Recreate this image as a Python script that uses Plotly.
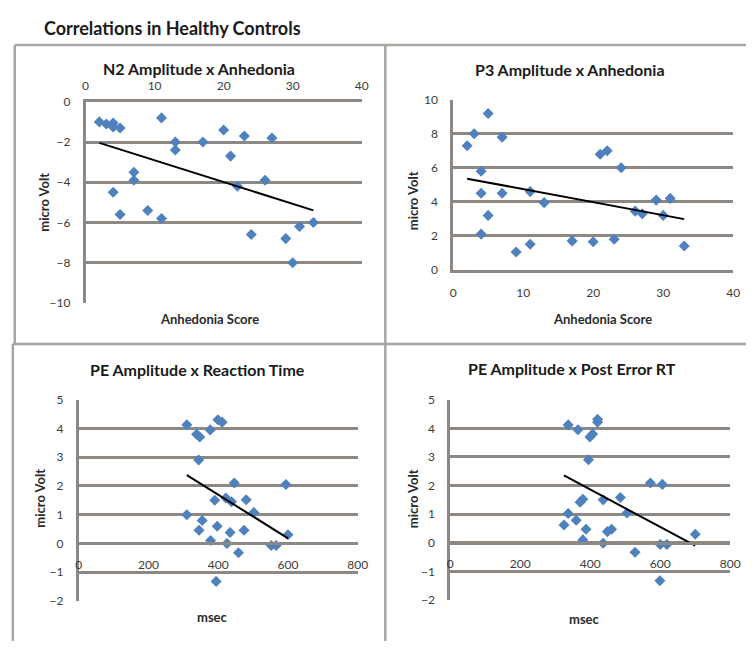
import numpy as np
import plotly.graph_objects as go

W, H = 756, 648

# ---------------- data ----------------
n2_x = [2, 3, 4, 4, 5, 11, 13, 13, 17, 20, 21, 23, 27, 7, 7, 4, 5, 9, 11, 22, 26, 24, 29, 31, 33, 30]
n2_y = [-1.0, -1.1, -1.05, -1.25, -1.3, -0.8, -2.0, -2.4, -2.0, -1.4, -2.7, -1.7, -1.8,
        -3.5, -3.9, -4.5, -5.6, -5.4, -5.8, -4.2, -3.9, -6.6, -6.8, -6.2, -6.0, -8.0]

p3_x = [2, 3, 4, 4, 4, 5, 5, 7, 7, 9, 11, 11, 13, 17, 20, 21, 22, 23, 24, 26, 27, 29, 30, 31, 33]
p3_y = [7.3, 8.0, 5.8, 4.5, 2.1, 9.2, 3.2, 7.8, 4.5, 1.05, 1.5, 4.6, 3.95, 1.7, 1.65,
        6.8, 7.0, 1.8, 6.0, 3.45, 3.3, 4.1, 3.2, 4.2, 1.4]

rt_x = [310, 338, 347, 377, 344, 399, 411, 310, 354, 345, 378, 390, 397, 394, 422, 438,
        434, 425, 446, 480, 474, 502, 458, 552, 566, 594, 600]
rt_y = [4.13, 3.8, 3.7, 3.95, 2.9, 4.3, 4.22, 1.0, 0.8, 0.46, 0.1, 1.5, 0.6, -1.32, 1.58, 1.45,
        0.38, 0.0, 2.1, 1.52, 0.46, 1.08, -0.32, -0.07, -0.07, 2.05, 0.3]

pe_x = [337, 365, 399, 407, 395, 421, 421, 325, 337, 360, 371, 379, 388, 379, 437, 437,
        449, 461, 486, 505, 528, 572, 606, 600, 619, 599, 700]
pe_y = [4.12, 3.95, 3.7, 3.8, 2.9, 4.32, 4.21, 0.62, 1.02, 0.79, 1.42, 1.52, 0.47, 0.1, -0.02, 1.5,
        0.39, 0.47, 1.58, 1.04, -0.33, 2.09, 2.04, -0.06, -0.06, -1.33, 0.3]

main_title = "Correlations in Healthy Controls"
panel_titles = ["N2 Amplitude x Anhedonia", "P3 Amplitude x Anhedonia",
                "PE Amplitude x Reaction Time", "PE Amplitude x Post Error RT"]
x_titles = ["Anhedonia Score", "Anhedonia Score", "msec", "msec"]
y_title = "micro Volt"

# ---------------- style ----------------
FONT = "Lato"
BLUE = "#4f81bd"
GRID = "#8e8884"
BORDER = "#a9a5a1"
TICKC = "#3b3b3b"


def fx(px):
    return px / W


def fy(py):
    return 1 - py / H


# pixel boxes of plot areas (left, right, top, bottom)
boxes = [(84, 365, 96, 302), (458, 743, 94, 268), (77, 361, 401, 607), (455, 740, 401, 606)]
xranges = [[0, 40], [0, 40], [0, 800], [0, 800]]
yranges = [[-10, 0], [0, 10], [-2, 5], [-2, 5]]
xdt = [10, 10, 200, 200]
ydt = [2, 2, 1, 1]
datasets = [(n2_x, n2_y), (p3_x, p3_y), (rt_x, rt_y), (pe_x, pe_y)]

fig = go.Figure()
layout = dict(
    width=W, height=H, margin=dict(l=0, r=0, t=0, b=0),
    paper_bgcolor="white", plot_bgcolor="white", showlegend=False,
    font=dict(family=FONT, size=12, color=TICKC),
)

for i, ((l, r, t, b), (xs, ys)) in enumerate(zip(boxes, datasets)):
    k = "" if i == 0 else str(i + 1)
    xa, ya = "x" + k, "y" + k
    fig.add_trace(go.Scatter(x=xs, y=ys, mode="markers", xaxis=xa, yaxis=ya,
                             marker=dict(symbol="diamond", size=8.5, color=BLUE,
                                         line=dict(width=0))))
    # linear trendline computed from the data
    sl, ic = np.polyfit(xs, ys, 1)
    tx = np.array([min(xs), max(xs)])
    fig.add_trace(go.Scatter(x=tx, y=sl * tx + ic, mode="lines", xaxis=xa, yaxis=ya,
                             line=dict(color="black", width=2)))

    y0, y1 = yranges[i]
    xaxis = dict(domain=[fx(l), fx(r)], range=xranges[i], dtick=xdt[i], tick0=0,
                 showgrid=False, zeroline=False, showline=True, linecolor=GRID,
                 linewidth=2.5, ticks="", tickfont=dict(size=12, color=TICKC),
                 ticklabelstandoff=4, fixedrange=True)
    if i == 0:
        xaxis.update(side="top", anchor=ya)
    elif i == 1:
        xaxis.update(side="bottom", anchor=ya, ticklabelstandoff=10)
    else:
        pos = fy(b) + (0 - y0) / (y1 - y0) * (fy(t) - fy(b))
        xaxis.update(anchor="free", position=pos, side="bottom", ticklabelstandoff=9)
    yaxis = dict(domain=[fy(b), fy(t)], range=yranges[i], dtick=ydt[i], tick0=0,
                 anchor=xa, showgrid=True, gridcolor=GRID, gridwidth=2.5,
                 zeroline=False, showline=True, linecolor=GRID, linewidth=2.5,
                 ticks="", tickfont=dict(size=12, color=TICKC), ticklabelstandoff=10,
                 fixedrange=True)
    layout["xaxis" + k] = xaxis
    layout["yaxis" + k] = yaxis

annotations = []
# main title
annotations.append(dict(text="<b>" + main_title + "</b>", x=fx(40), y=fy(20), xref="paper",
                        yref="paper", xanchor="left", yanchor="middle", showarrow=False,
                        font=dict(family=FONT, size=18, color="#1a1a1a")))
ptitle_pos = [(199, 62), (577, 63), (198, 370), (579, 369)]
xtitle_pos = [(210, 318), (610, 318), (213, 623), (592, 625)]
ytitle_pos = [(42, 199), (418, 197), (38, 502), (418, 502)]
for i in range(4):
    px, py = ptitle_pos[i]
    annotations.append(dict(text="<b>" + panel_titles[i] + "</b>", x=fx(px), y=fy(py),
                            xref="paper", yref="paper", xanchor="center", yanchor="middle",
                            showarrow=False, font=dict(family=FONT, size=16, color="#1a1a1a")))
    px, py = xtitle_pos[i]
    annotations.append(dict(text="<b>" + x_titles[i] + "</b>", x=fx(px), y=fy(py),
                            xref="paper", yref="paper", xanchor="center", yanchor="middle",
                            showarrow=False, font=dict(family=FONT, size=13, color="#2a2a2a")))
    px, py = ytitle_pos[i]
    annotations.append(dict(text="<b>" + y_title + "</b>", x=fx(px), y=fy(py),
                            xref="paper", yref="paper", xanchor="center", yanchor="middle",
                            textangle=-90, showarrow=False,
                            font=dict(family=FONT, size=13, color="#2a2a2a")))
layout["annotations"] = annotations

# panel border lines
shapes = []
for (x0, y0_, x1, y1_) in [(12, 38, 756, 38), (389, 38, 389, 648), (10, 344, 756, 344),
                           (12, 38, 12, 344), (10, 344, 10, 648)]:
    shapes.append(dict(type="line", xref="paper", yref="paper", x0=fx(x0), y0=fy(y0_),
                       x1=fx(x1), y1=fy(y1_), line=dict(color=BORDER, width=2.5)))
layout["shapes"] = shapes

fig.update_layout(**layout)
fig.write_html("out.html")
